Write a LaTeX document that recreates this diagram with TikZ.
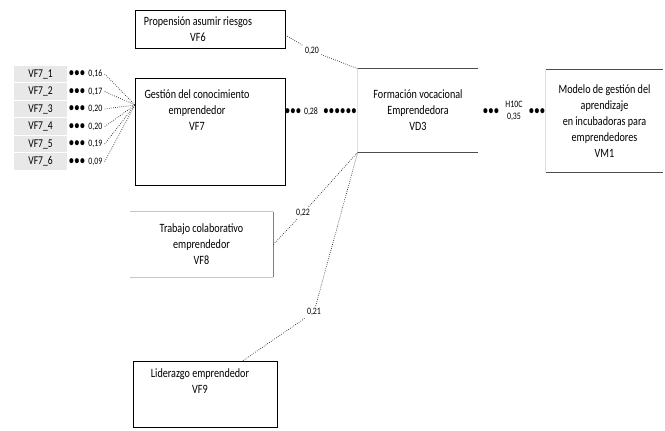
\documentclass[tikz,border=0pt]{standalone}
\usepackage{fontspec}
\setmainfont{Carlito}[FakeStretch=0.8]
\newcommand{\bt}{\textbullet\kern0.6pt}

\tikzset{
  txt/.style={font=\fontsize{9}{11.3}\selectfont, align=center, inner sep=0pt},
  val/.style={font=\fontsize{7}{8.5}\selectfont, align=center, inner sep=1.5pt},
  bul/.style={font=\fontsize{8.5}{8.5}\selectfont\bfseries, inner sep=0pt},
  link/.style={densely dotted, line width=0.5pt, black!85},
  ind/.style={fill=gray!18, draw=white, line width=0.8pt, minimum width=1.375cm,
    minimum height=0.4375cm, inner sep=0pt, font=\fontsize{8.5}{9}\selectfont},
  frame/.style={draw, line width=0.6pt, inner sep=0pt}
}

\begin{document}
\begin{tikzpicture}[x=0.025cm, y=-0.025cm]
\useasboundingbox (0,0) rectangle (665,430);

% constructs
\node[frame, minimum width=3.75cm, minimum height=0.95cm] (vf6) at (210,29) {};
\node[txt] (vf6txt) at (198,29) {Propensión asumir riesgos\\VF6};

\node[frame, minimum width=3.75cm, minimum height=2.675cm] (vf7) at (210,131.5) {};
\node[txt] (vf7txt) at (197,110) {Gestión del conocimiento\\emprendedor\\VF7};

\node[txt, minimum width=3.575cm, minimum height=1.625cm] (vf8) at (201.5,244.5)
  {Trabajo colaborativo\\emprendedor\\VF8};
\draw[gray!45, line width=0.6pt] (vf8.north west) -- (vf8.north east)
  (vf8.south west) -- (vf8.south east);
\draw[gray, line width=0.6pt] (vf8.north east) -- (vf8.south east);

\node[frame, minimum width=3.6cm, minimum height=1.65cm] (vf9) at (205,394) {};
\node[txt] (vf9txt) at (200,381) {Liderazgo emprendedor\\VF9};

\node[txt, minimum width=3cm, minimum height=2.075cm] (vd3) at (418,110.5)
  {Formación vocacional\\Emprendedora\\VD3};
\draw[gray!25, line width=0.6pt] (vd3.north west) -- (vd3.south west);
\draw[black!70, line width=0.7pt] (vd3.north west) -- (vd3.north east)
  (vd3.south west) -- (vd3.south east);

\node[txt, minimum width=2.925cm, minimum height=2.55cm] (vm1) at (604.5,121)
  {Modelo de gestión del\\aprendizaje\\en incubadoras para\\emprendedores\\VM1};
\draw[gray!25, line width=0.6pt] (vm1.north west) -- (vm1.south west);
\draw[black!70, line width=0.7pt] (vm1.north west) -- (vm1.north east)
  (vm1.south west) -- (vm1.south east);

% indicators of VF7
\coordinate (vf7in) at (135,105);
\foreach \i/\v in {1/{0,16},2/{0,17},3/{0,20},4/{0,20},5/{0,19},6/{0,09}}{
  \pgfmathsetmacro\y{56.5+\i*17.5}
  \node[ind] (r\i) at (40.5,\y) {VF7\_\i};
  \node[bul] (b\i) at (77,\y) {\bt\bt\textbullet};
  \node[val, anchor=west] (v\i) at (86,\y) {\v};
  \draw[link] (v\i.east) -- (vf7in);
}

% paths to VD3
\node[val] (w6) at (312,51) {0,20};
\draw[link] ([yshift=-0.15cm]vf6.east) -- (w6) -- (vd3.north west);

\node[bul] (d7a) at (293,112) {\bt\bt\textbullet};
\node[val] (w7) at (311,112) {0,28};
\node[bul] (d7b) at (340,112) {\bt\bt\bt\bt\bt\textbullet};

\node[val] (w8) at (303,213) {0,22};
\draw[link] (vf8.east) -- (w8) -- (vd3.south west);

\node[val] (w9) at (314,312) {0,21};
\draw[link] ([xshift=0.95cm]vf9.north) -- (w9) -- (vd3.south west);

% path to VM1
\node[bul] (d3a) at (491,112) {\bt\bt\textbullet};
\node[val] (w3) at (514,111) {H10C\\0,35};
\node[bul] (d3b) at (537,112) {\bt\bt\textbullet};

\end{tikzpicture}
\end{document}
